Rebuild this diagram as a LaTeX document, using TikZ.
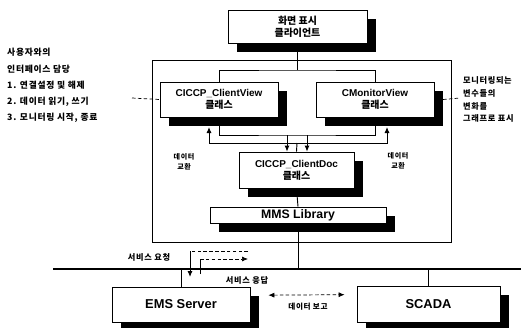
\documentclass[tikz,border=0pt]{standalone}
\usepackage{fontspec}
\setmainfont{Liberation Sans}
\newfontfamily\kr{Noto Sans CJK KR}
\newfontfamily\krs[LetterSpace=8]{Noto Sans CJK KR}
\usetikzlibrary{arrows.meta, positioning}

\begin{document}
\begin{tikzpicture}[
    x=0.3mm, y=-0.3mm,
    >={Latex[length=1.8mm,width=1.5mm]},
    box/.style={
        draw,
        rectangle,
        fill=white,
        line width=0.6pt,
        align=center,
        inner sep=0pt,
        font=\bfseries\fontsize{8.5}{10}\selectfont
    },
    cls/.style={box, minimum width=35.4mm, minimum height=10.5mm},
    server/.style={box, font=\bfseries\fontsize{11}{13}\selectfont},
    note/.style={align=left, inner sep=0pt, font=\krs\bfseries\fontsize{7.5}{13.6}\selectfont},
    small/.style={align=center, inner sep=0pt, font=\krs\bfseries\fontsize{6}{9}\selectfont},
    link/.style={line width=0.8pt},
    arrow/.style={->, line width=0.8pt},
    dotline/.style={densely dashed, line width=0.6pt}
]

\useasboundingbox (0,0) rectangle (521,328);

% shadows of the boxes
\fill (237,19) rectangle (376,52);
\fill (169,91) rectangle (287,126);
\fill (325,91) rectangle (443,126);
\fill (248,161) rectangle (363,197);
\fill (219,216) rectangle (395,232);
\fill (121,296) rectangle (259,328);
\fill (366,295) rectangle (509,328);

% outer frame of the client program
\node[draw, line width=0.6pt, minimum width=89.7mm, minimum height=54.6mm, inner sep=0pt] (frame) at (301.5,151) {};

\node[box, minimum width=41.7mm, minimum height=9.9mm] (client) at (297.5,26.5) {{\kr 화면 표시}\\{\kr 클라이언트}};
\node[cls] (view) at (219,99.5) {CICCP\_ClientView\\{\kr 클래스}};
\node[cls] (monitor) at (375,99.5) {CMonitorView\\{\kr 클래스}};
\node[cls, minimum width=34.5mm, minimum height=10.8mm] (doc) at (296.5,170) {CICCP\_ClientDoc\\{\kr 클래스}};
\node[box, minimum width=52.8mm, minimum height=4.8mm, font=\bfseries\fontsize{10.5}{12}\selectfont] (mms) at (298,215) {MMS Library};
\node[server, minimum width=41.4mm, minimum height=10.5mm] (ems) at (181,304.5) {EMS Server};
\node[server, minimum width=42.9mm, minimum height=10.8mm] (scada) at (428.5,304) {SCADA};

% texts beside the frame
\node[note, anchor=west] (usr) at (7,85) {사용자와의\\[0.5mm]인터페이스 담당\\1. 연결설정 및 해제\\2. 데이터 읽기, 쓰기\\3. 모니터링 시작, 종료};
\node[note, anchor=west, font=\krs\bfseries\fontsize{7}{11}\selectfont] (graph) at (463,99.5) {모니터링되는\\변수들의\\변화를\\그래프로 표시};
\node[small] (xchl) at (184,162) {데이터\\교환};
\node[small] (xchr) at (398,161) {데이터\\교환};

\coordinate (usrc) at (132,98);
\coordinate (graphc) at (460,98);
\draw[dotline] (usrc) -- (view.west);
\draw[dotline] ([xshift=2.6mm]monitor.east) -- (graphc);

% views and document
\coordinate (topj) at (297.5,70);
\draw[link] (client.south) -- (topj);
\draw[link] (view.north) |- (topj) -| (monitor.north);

\coordinate (xin) at (297,135);
\coordinate (xout) at (297,143);
\coordinate (dna) at (287,135);
\coordinate (dnb) at (307,135);
\coordinate (upa) at (209,127);
\coordinate (upb) at (387,127);
\draw[link] (view.south) |- (xin) -| (monitor.south);
\draw[arrow] (dna) -- (dna |- doc.north);
\draw[arrow] (dnb) -- (dnb |- doc.north);
\draw[link] (doc.north) -- (xout);
\draw[arrow] (xout) -| (upa);
\draw[arrow] (xout) -| (upb);
\draw[link] (doc.south) -- (mms.north);

% network
\coordinate (busl) at (53,269);
\coordinate (busr) at (521,269);
\draw[line width=1.4pt] (busl) -- (busr);
\draw[link] (mms.south) -- (mms.south |- busl);
\draw[link] (ems.north) -- (ems.north |- busl);
\draw[link] (scada.north) -- (scada.north |- busl);

% service request / response
\coordinate (rqa) at (248,251);
\coordinate (rqb) at (190,251);
\coordinate (rqc) at (190,277);
\coordinate (rsa) at (200,274);
\coordinate (rsb) at (200,259);
\coordinate (rsc) at (248,259);
\draw[dotline] (rqa) -- (rqb);
\draw[arrow] (rqb) -- (rqc);
\draw[link] (rsa) -- (rsb);
\draw[arrow, dotline] (rsb) -- (rsc);
\node[note, font=\krs\bfseries\fontsize{7}{8}\selectfont] (req) at (149,257) {서비스 요청};
\node[note, font=\krs\bfseries\fontsize{7}{8}\selectfont] (rsp) at (247,280) {서비스 응답};

\draw[<->, dotline] ([xshift=5.4mm,yshift=2.8mm]ems.east) -- ([xshift=-3.6mm,yshift=2.8mm]scada.west);
\node[small, font=\krs\bfseries\fontsize{6.5}{8}\selectfont] (rpt) at (308,307) {데이터 보고};

\end{tikzpicture}
\end{document}
